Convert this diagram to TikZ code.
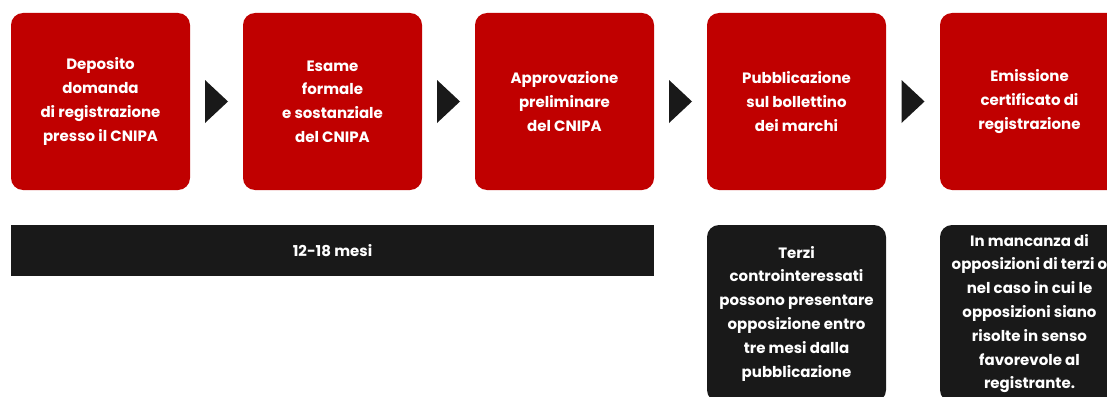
\documentclass[tikz,border=0pt]{standalone}
\usepackage{fontspec}
\setmainfont{Poppins}
\usetikzlibrary{calc}
\definecolor{stepred}{HTML}{C00000}
\definecolor{darkbox}{HTML}{191919}
\begin{document}
\begin{tikzpicture}[x=1pt, y=-1pt,
    redbox/.style={fill=stepred, rounded corners=12pt, minimum width=179pt, minimum height=177pt,
        inner sep=0pt, text=white, align=center, font=\fontsize{15}{23.8}\selectfont\bfseries},
    blackbox/.style={redbox, fill=darkbox},
    arrowtri/.style={fill=darkbox}]
    \useasboundingbox (0,0) rectangle (1107,396);
    \clip (0,0) rectangle (1107,396);

    % fasi
    \node[redbox] (deposito) at (100.5,101.5) {Deposito\\domanda\\di registrazione\\presso il CNIPA};
    \node[redbox] (esame) at (332.5,101.5) {Esame\\formale\\e sostanziale\\del CNIPA};
    \node[redbox] (approvazione) at (564.5,101.5) {Approvazione\\preliminare\\del CNIPA};
    \node[redbox] (pubblicazione) at (796.5,101.5) {Pubblicazione\\sul bollettino\\dei marchi};
    \node[redbox] (emissione) at (1029.5,101.5) {Emissione\\certificato di\\registrazione};

    % frecce
    \foreach \a/\b in {deposito/esame, esame/approvazione, approvazione/pubblicazione, pubblicazione/emissione}
        \fill[arrowtri] ($(\a.east)!0.5!(\b.west)$) ++(-11.5,-21.5) -- ++(23,21.5) -- ++(-23,21.5) -- cycle;

    % durata
    \node[fill=darkbox, minimum width=643pt, minimum height=51pt, inner sep=0pt, text=white,
        font=\fontsize{15}{24}\selectfont\bfseries] (durata) at (332.5,250.5) {12-18 mesi};

    % note
    \node[blackbox] (opposizione) at (796.5,313.5) {Terzi\\controinteressati\\possono presentare\\opposizione entro\\tre mesi dalla\\pubblicazione};
    \node[blackbox] (mancanza) at (1029.5,313.5) {In mancanza di\\opposizioni di terzi o\\nel caso in cui le\\opposizioni siano\\risolte in senso\\favorevole al\\registrante.};
\end{tikzpicture}
\end{document}
